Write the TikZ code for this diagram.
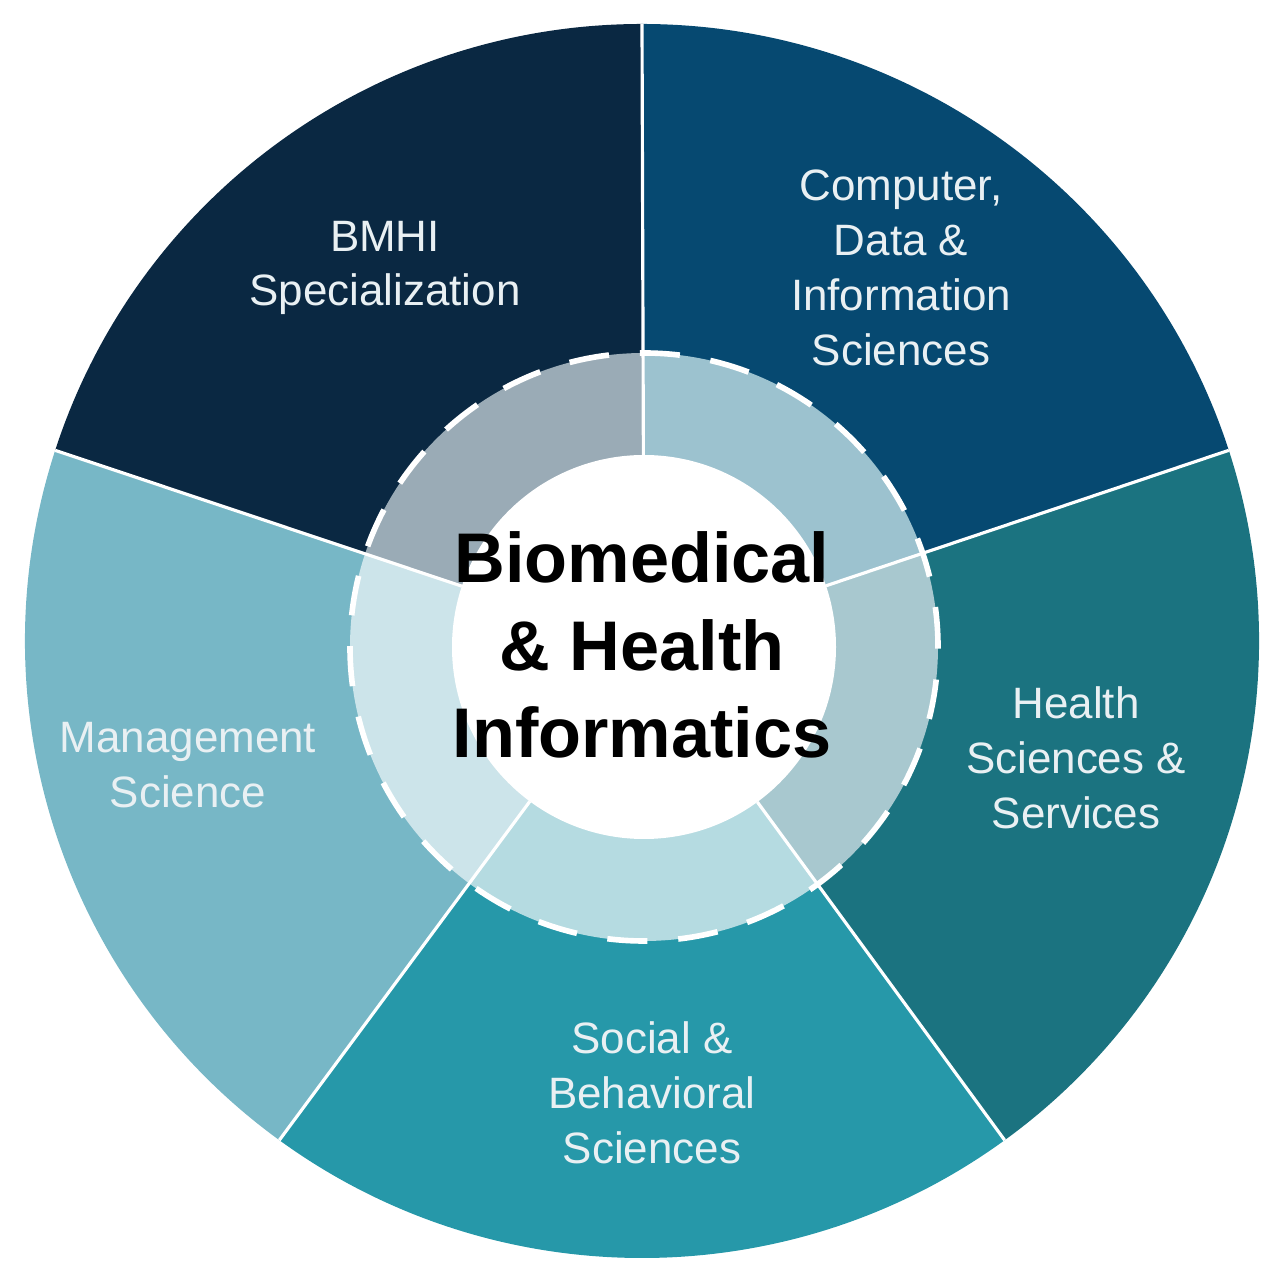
\documentclass[tikz,border=0pt]{standalone}
\usepackage{fontspec}
\usetikzlibrary{calc}
\setmainfont{Liberation Sans}
\definecolor{bmhi}{HTML}{0A2842}
\definecolor{cdis}{HTML}{064971}
\definecolor{hss}{HTML}{1B7380}
\definecolor{sbs}{HTML}{2698A9}
\definecolor{ms}{HTML}{77B7C6}
\definecolor{bmhiring}{HTML}{9AABB6}
\definecolor{cdisring}{HTML}{9CC2CF}
\definecolor{hssring}{HTML}{A8C8CF}
\definecolor{sbsring}{HTML}{B5DBE1}
\definecolor{msring}{HTML}{CCE4EA}
\definecolor{fieldtext}{HTML}{E9F0F3}
\begin{document}
\begin{tikzpicture}[field/.style={text=fieldtext,align=center,font=\fontsize{12.5}{15.6}\selectfont},
    core/.style={align=center,font=\bfseries\fontsize{20}{25}\selectfont},
    divider/.style={white,line width=0.9pt},
    ring/.style={white,line width=1.6pt,dash pattern=on 11.4pt off 8.8pt}]

    \useasboundingbox (-6.42,-6.39) rectangle (6.37,6.41);

    % five sectors, outer part and lighter inner ring
    \coordinate (hub) at (0.02,-0.06);
    \foreach \a/\c in {90/bmhi, 18/cdis, -54/hss, -126/sbs, 162/ms}
        \fill[\c] (hub) -- (\a:6.17) arc (\a:\a+72:6.17) -- cycle;
    \begin{scope}
        \clip (hub) circle (2.94);
        \foreach \a/\c in {90/bmhi, 18/cdis, -54/hss, -126/sbs, 162/ms}
            \fill[\c ring] (hub) -- (\a:6.17) arc (\a:\a+72:6.17) -- cycle;
    \end{scope}
    \fill[white] (hub) circle (1.92);
    \foreach \a in {18,90,162,234,306}
        \draw[divider] ($(hub)!1.92cm!(\a:6.17)$) -- (\a:6.17);
    \draw[ring] (hub) circle (2.94);

    \node[field] (bmhi) at (-2.57,3.73) {BMHI\\Specialization};
    \node[field] (cdis) at (2.59,3.73) {Computer,\\Data \&\\Information\\Sciences};
    \node[field] (hss) at (4.34,-1.17) {Health\\Sciences \&\\Services};
    \node[field] (sbs) at (0.10,-4.52) {Social \&\\Behavioral\\Sciences};
    \node[field] (ms) at (-4.54,-1.24) {Management\\Science};
    \node[core] (bhi) at (0,-0.04) {Biomedical\\\& Health\\Informatics};
\end{tikzpicture}
\end{document}
